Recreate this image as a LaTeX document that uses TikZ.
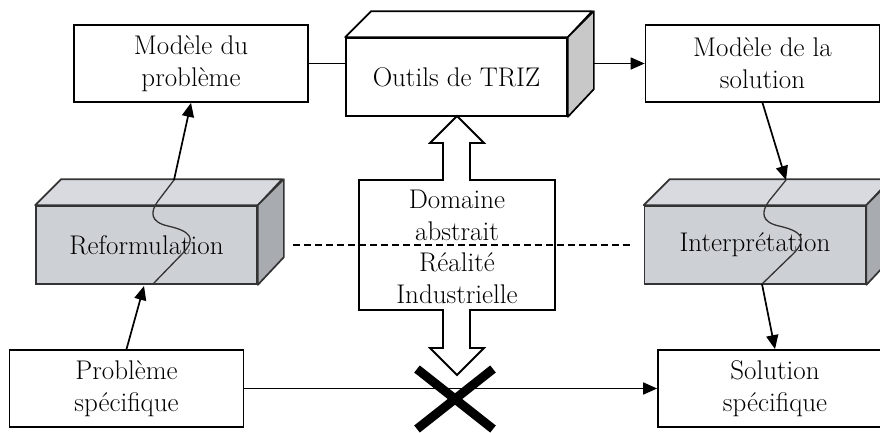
\documentclass[tikz,border=0pt]{standalone}
\usetikzlibrary{arrows.meta,calc}
\definecolor{gfront}{HTML}{CDD0D5}
\definecolor{gtop}{HTML}{D8DADF}
\definecolor{gside}{HTML}{A8ABB0}
\definecolor{otside}{HTML}{C8C8C8}
\definecolor{edge}{HTML}{333333}
\begin{document}
\begin{tikzpicture}[x=1pt,y=-1pt,
  txt/.style={font=\fontsize{27}{32}\selectfont, align=center},
  plain/.style={draw=black, line width=1.7pt, fill=white, minimum width=234pt, minimum height=77pt, inner sep=0pt, txt},
  front/.style={draw=edge, line width=1.7pt, fill=gfront, minimum width=221pt, minimum height=78pt, inner sep=0pt, txt},
  face/.style={draw=edge, line width=1.7pt, line join=round},
  arr/.style={line width=1.7pt, -{Triangle[length=14pt,width=12pt]}},
  conn/.style={line width=1.7pt},
  wave/.style={draw=edge, line width=1.3pt},
  bigarrow/.style={draw=black, line width=1.8pt, fill=white, line join=miter}
]
\useasboundingbox (0,0) rectangle (880,432);

% plain boxes
\node[plain] (mp) at (191,63.5) {Modèle du\\problème};
\node[plain] (ms) at (762.5,63.5) {Modèle de la\\solution};
\node[plain] (prob) at (126.5,388.5) {Problème\\spécifique};
\node[plain] (sol) at (775,388.5) {Solution\\spécifique};

% Outils de TRIZ (3D white box)
\node[front, fill=white, draw=black] (outils) at (456.5,77) {Outils de TRIZ};
\draw[face, draw=black, fill=white] (outils.north west) -- ++(26,-26) -- ++(221,0) -- (outils.north east) -- cycle;
\draw[face, draw=black, fill=otside] (outils.north east) -- ++(26,-26) -- ++(0,78) -- (outils.south east) -- cycle;
\coordinate (otR) at ($(outils.east)+(26,0)$);

% Reformulation (3D grey box)
\node[front] (ref) at (146.5,245) {Reformulation};
\draw[face, fill=gtop] (ref.north west) -- ++(26,-26) -- ++(221,0) -- (ref.north east) -- cycle;
\draw[face, fill=gside] (ref.north east) -- ++(26,-26) -- ++(0,78) -- (ref.south east) -- cycle;
\coordinate (refT) at (174,180);
\coordinate (refB) at (153,284);
\draw[wave] (refT) -- (158,201) .. controls (150,212) and (150,222) .. (168,226)
  .. controls (190,231) and (197,238) .. (183,253) -- (refB);

% Interpretation (3D grey box)
\node[front] (int) at (755,245) {Interprétation};
\draw[face, fill=gtop] (int.north west) -- ++(26,-26) -- ++(221,0) -- (int.north east) -- cycle;
\draw[face, fill=gside] (int.north east) -- ++(26,-26) -- ++(0,78) -- (int.south east) -- cycle;
\coordinate (intT) at (786,180);
\coordinate (intB) at (762,284);
\draw[wave] (intT) -- (769,201) .. controls (761,212) and (761,222) .. (779,226)
  .. controls (801,231) and (808,238) .. (794,253) -- (intB);

% central double arrow
\draw[bigarrow] (457,116) -- (484,143) -- (470,143) -- (470,180) -- (555,180) -- (555,310)
  -- (470,310) -- (470,348) -- (484,348) -- (457,375) -- (430,348) -- (443,348)
  -- (443,310) -- (359,310) -- (359,180) -- (443,180) -- (443,143) -- (430,143) -- cycle;
\node[txt, font=\fontsize{27}{31.7}\selectfont] (dom) at (457,247) {Domaine\\abstrait\\Réalité\\Industrielle};

% dashed border line
\coordinate (dL) at ($(ref.east)+(35,0)$);
\coordinate (dR) at ($(int.west)+(-10,0)$);
\draw[line width=1.7pt, dash pattern=on 7pt off 4pt] (dL) -- (dR);

% connectors
\draw[conn] (mp.east) -- (mp.east -| outils.west);
\draw[arr] (otR |- ms.west) -- (ms.west);
\draw[arr] (prob.north) -- (144,286);
\draw[arr] (refT) -- (mp.south);
\draw[arr] (ms.south) -- (intT);
\draw[arr] (intB) -- (sol.north);
\draw[arr] (prob.east) -- (sol.west);

% the cross
\coordinate (xc) at (455,399);
\draw[line width=9pt] ($(xc)+(-38,-30)$) -- ($(xc)+(38,30)$);
\draw[line width=9pt] ($(xc)+(38,-30)$) -- ($(xc)+(-38,30)$);
\end{tikzpicture}
\end{document}
